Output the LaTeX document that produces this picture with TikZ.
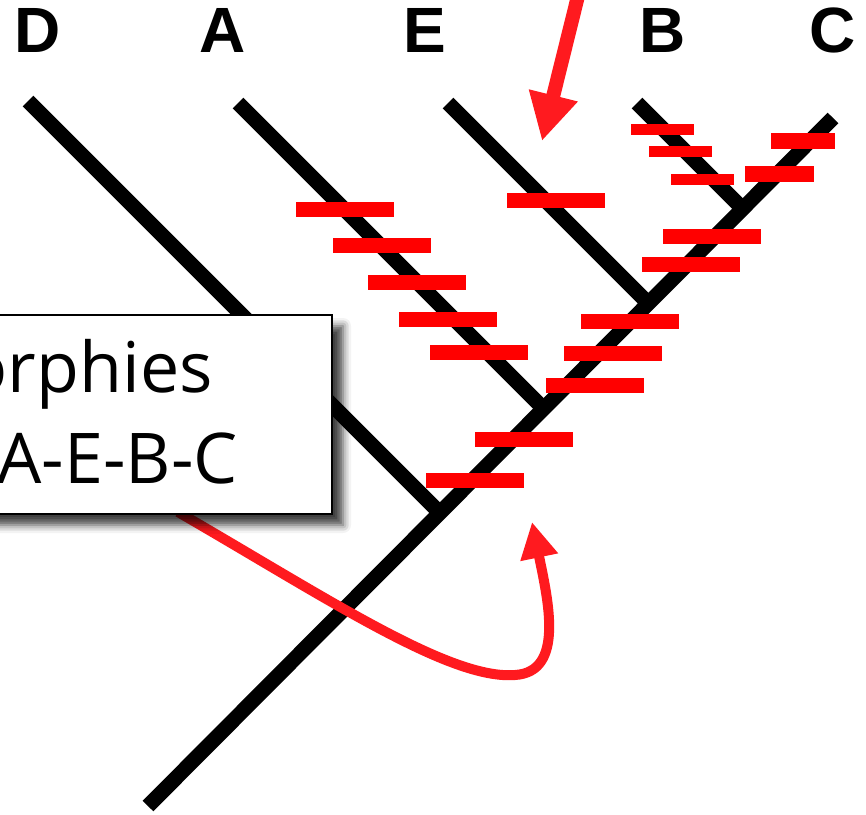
\documentclass[tikz,border=0pt]{standalone}
\usepackage{fontspec}
\setmainfont{Open Sans}
\newfontfamily\taxonfont{Liberation Sans}
\usetikzlibrary{arrows.meta,shadows.blur}
\definecolor{arrowred}{RGB}{255,26,31}

\begin{document}
\begin{tikzpicture}[
    x=1pt, y=-1pt,
    % Define styles for the tree
    branch/.style={draw=black, line width=15pt, line cap=butt},
    synapo/.style={rectangle, fill=red, inner sep=0pt, minimum width=98pt, minimum height=15pt},
    smallsynapo/.style={synapo, minimum width=63pt, minimum height=11pt},
    taxon/.style={font=\taxonfont\bfseries\fontsize{64}{64}\selectfont, anchor=base, inner sep=0pt},
    note/.style={rectangle, draw=black, line width=2pt, fill=white, inner sep=0pt,
        blur shadow={shadow xshift=11pt, shadow yshift=-11pt, shadow blur radius=8pt, shadow opacity=75}},
    notetext/.style={font=\fontsize{70}{70}\selectfont, anchor=base east, inner sep=0pt},
    pointer/.style={draw=arrowred, line width=14pt, -{Triangle[length=47pt, width=47pt]}},
    looppointer/.style={draw=arrowred, line width=10pt, -{Triangle[length=36pt, width=36pt]}}
]
\useasboundingbox (0,0) rectangle (866,814);
\clip (0,0) rectangle (866,814);

% ==========================================
% Tree: tips, junctions and branches
% ==========================================
\coordinate (root) at (148,806);
\coordinate (tipD) at (28,101);
\coordinate (tipA) at (238,103);
\coordinate (tipE) at (448,103);
\coordinate (tipB) at (637,103);
\coordinate (tipC) at (833,118);
\coordinate (jD) at (440,513);
\coordinate (jA) at (544,409);
\coordinate (jE) at (649,304);
\coordinate (jB) at (743.5,209.5);

\draw[branch] (root) -- (tipC);
\draw[branch] (tipD) -- (jD);
\draw[branch] (tipA) -- (jA);
\draw[branch] (tipE) -- (jE);
\draw[branch] (tipB) -- (jB);

% Taxon labels
\node[taxon] (taxonD) at (38,52) {D};
\node[taxon] (taxonA) at (222.5,52) {A};
\node[taxon] (taxonE) at (424.5,52) {E};
\node[taxon] (taxonB) at (663,52) {B};
\node[taxon] (taxonC) at (832.5,52) {C};

% ==========================================
% Synapomorphies (red bars)
% ==========================================
\foreach \x/\y [count=\i] in {345/209.5, 381.5/245, 417/282, 448/319.5, 479/352.5,
    555.5/200, 523.5/439, 474.5/480.5, 630/321.5, 612.5/353.5, 594.5/385.5,
    712/236, 690.5/264.5}
  \node[synapo] (syn\i) at (\x,\y) {};

\foreach \x/\y [count=\i] in {662.5/129.5, 680/151, 702/179}
  \node[smallsynapo] (synB\i) at (\x,\y) {};

\node[synapo, minimum width=64pt, minimum height=16pt] (synC1) at (803,141) {};
\node[synapo, minimum width=69pt, minimum height=16pt] (synC2) at (779.5,174) {};

% ==========================================
% Pointers
% ==========================================
\coordinate (pointtop) at (578,-4);
\coordinate (pointtip) at (542,141);
\draw[pointer] (pointtop) -- (pointtip);

\coordinate (loopstart) at (178,512);
\coordinate (looptip) at (532,522);
\draw[looppointer] (loopstart) .. controls (330,600) and (450,680) .. (515,675)
    .. controls (565,672) and (548,600) .. (looptip);

% ==========================================
% Note box
% ==========================================
\node[note, anchor=north east, minimum width=373pt, minimum height=199pt] (note) at (333,314) {};
\node[notetext] (noteline1) at (213,392) {orphies};
\node[notetext] (noteline2) at (238,483) {A-E-B-C};

\end{tikzpicture}
\end{document}
